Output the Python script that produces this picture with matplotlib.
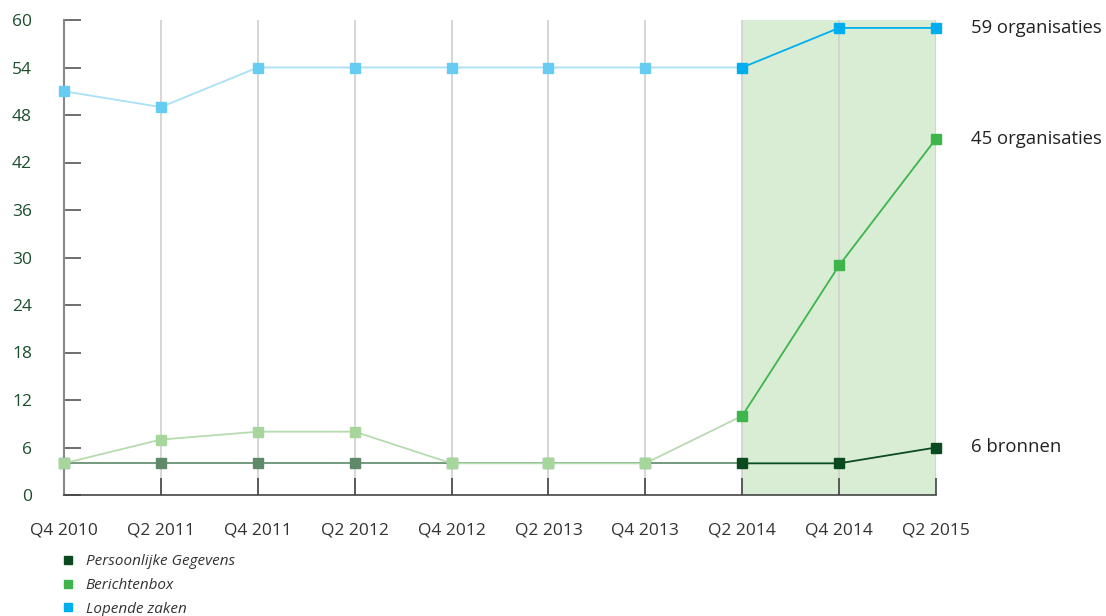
import matplotlib
matplotlib.use("Agg")
import matplotlib.pyplot as plt
from matplotlib.lines import Line2D

categories = ["Q4 2010", "Q2 2011", "Q4 2011", "Q2 2012", "Q4 2012",
              "Q2 2013", "Q4 2013", "Q2 2014", "Q4 2014", "Q2 2015"]
persoonlijke = [4, 4, 4, 4, 4, 4, 4, 4, 4, 6]
berichtenbox = [4, 7, 8, 8, 4, 4, 4, 10, 29, 45]
lopende = [51, 49, 54, 54, 54, 54, 54, 54, 59, 59]
series_names = ["Persoonlijke Gegevens", "Berichtenbox", "Lopende zaken"]
end_labels = ["6 bronnen", "45 organisaties", "59 organisaties"]
yticks = list(range(0, 61, 6))
highlight_start = "Q2 2014"

full_cols = ["#0a4a1e", "#3db54a", "#00aeef"]
line_faded = ["#6a9275", "#b5dcae", "#a9e0f6"]
mark_faded = ["#5f8a6a", "#a6d69c", "#66ccf2"]

plt.rcParams['font.family'] = ['Open Sans', 'DejaVu Sans']

fig = plt.figure(figsize=(11.06, 6.16), dpi=100)
ax = fig.add_axes([64/1106, 1-495/616, (936-64)/1106, 475/616])

x = list(range(len(categories)))
hs = categories.index(highlight_start)
ax.axvspan(hs, len(categories)-1, color="#d9ecd4", zorder=0, lw=0)
for xi in x[1:]:
    ax.axvline(xi, color="#d0d0d0", lw=1.2, zorder=1)

data = [persoonlijke, berichtenbox, lopende]
for k, vals in enumerate(data):
    z = 3 + k
    if k == 2:
        z = 3
    ax.plot(x[:hs+1], vals[:hs+1], color=line_faded[k], lw=1.3, zorder=z)
    ax.plot(x[hs:], vals[hs:], color=full_cols[k], lw=1.3, zorder=z)
    ax.plot(x[:hs], vals[:hs], ls="none", marker="s", ms=7, color=mark_faded[k],
            zorder=z+0.5, clip_on=False)
    ax.plot(x[hs:], vals[hs:], ls="none", marker="s", ms=7, color=full_cols[k],
            zorder=z+0.5, clip_on=False)
    ax.text(1.04, vals[-1], end_labels[k], transform=ax.get_yaxis_transform(),
            va="center", ha="left", fontsize=13.3, color="#222222")

ax.set_xlim(0, len(categories)-1)
ax.set_ylim(0, 60)
ax.set_yticks(yticks)
ax.set_xticks(x)
ax.set_xticklabels(categories)
for s in ["top", "right"]:
    ax.spines[s].set_visible(False)
ax.spines["left"].set_color("#888888")
ax.spines["left"].set_linewidth(1.5)
ax.spines["bottom"].set_color("#444444")
ax.spines["bottom"].set_linewidth(1.2)
ax.tick_params(axis="y", direction="in", length=12, width=1.2, color="#555555",
               labelsize=12.5, labelcolor="#1b4f2b", pad=23)
ax.tick_params(axis="x", direction="in", length=12, width=1.2, color="#444444",
               labelsize=12.5, labelcolor="#333333", pad=20)

handles = [Line2D([], [], ls="none", marker="s", ms=5.5, color=c) for c in full_cols]
leg = fig.legend(handles, series_names, loc="upper left", bbox_to_anchor=(59/1106, 1-554/616),
                 frameon=False, prop={"style": "italic", "size": 11}, labelspacing=0.58,
                 handletextpad=0.55, handlelength=1.2, borderaxespad=0, borderpad=0)
for t in leg.get_texts():
    t.set_color("#333333")

fig.savefig("out.png", dpi=100)
